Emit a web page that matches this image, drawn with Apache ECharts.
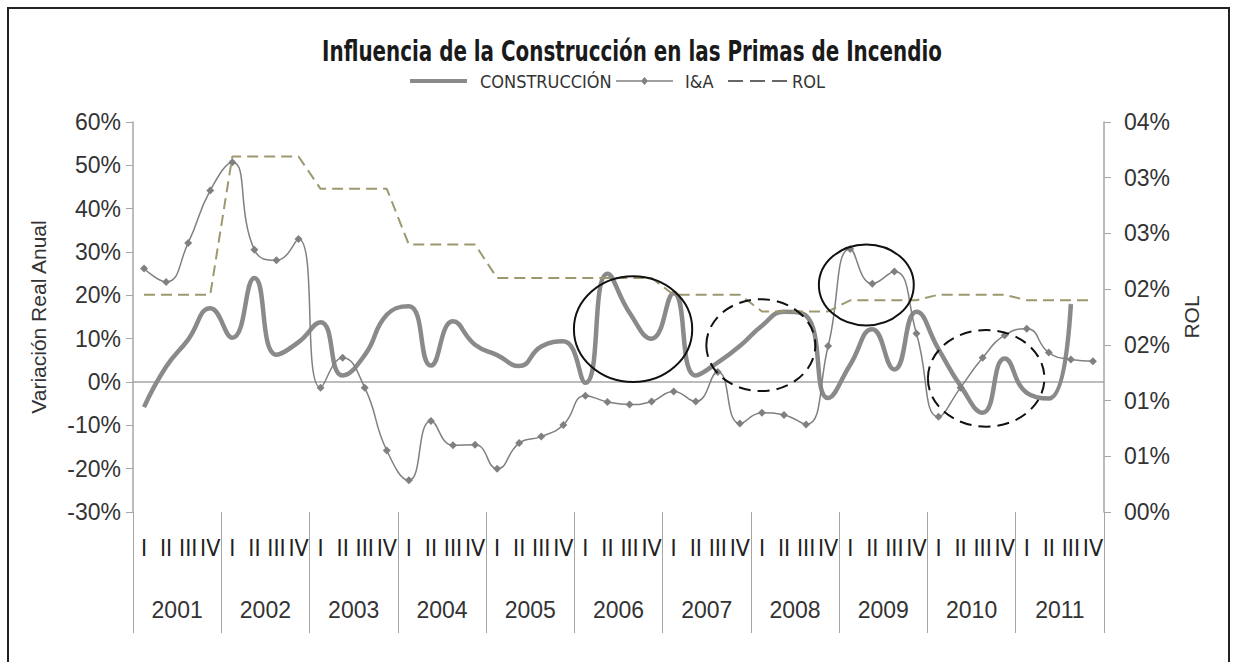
<!DOCTYPE html>
<html>
<head>
<meta charset="utf-8">
<script src="https://cdn.jsdelivr.net/npm/echarts@6/dist/echarts.min.js"></script>
<style>
html,body{margin:0;padding:0;background:#ffffff;}
#chart{width:1233px;height:662px;}
</style>
</head>
<body>
<div id="chart"></div>
<script>
// ---- data ----
const years = ['2001','2002','2003','2004','2005','2006','2007','2008','2009','2010','2011'];
const quarterLabels = ['I','II','III','IV'];

// CONSTRUCCIÓN (% variación real anual), quarterly 2001 I .. 2011 IV
const construccion = [
  -5.8, 3.5, 9.8, 17.0,
  10.2, 24.0, 6.3, 9.2,
  13.8, 1.5, 6.2, 15.5,
  17.5, 3.8, 14.0, 8.6,
  6.2, 3.7, 8.2, 9.4,
  -0.2, 25.0, 16.0, 10.0,
  20.5, 1.5, 4.5, 8.3,
  13.0, 16.2, 15.3, -3.7,
  4.0, 12.2, 2.9, 16.2,
  7.6, -0.9, -7.1, 5.4,
  -2.5, -3.8, 18.0, null
];

// I&A (% variación real anual)
const iya = [
  26.2, 23.1, 32.1, 44.2,
  50.7, 30.5, 28.1, 33.0,
  -1.3, 5.6, -1.3, -15.8,
  -22.7, -9.0, -14.6, -14.5,
  -20.0, -14.1, -12.6, -9.9,
  -3.2, -4.6, -5.2, -4.5,
  -2.2, -4.5, 2.3, -9.6,
  -7.1, -7.6, -9.8, 8.3,
  30.7, 22.7, 25.5, 11.2,
  -8.0, -1.3, 5.6, 10.8,
  12.3, 6.8, 5.2, 4.8
];

// ROL (%), right axis
const rol = [
  1.95, 1.95, 1.95, 1.95,
  3.19, 3.19, 3.19, 3.19,
  2.90, 2.90, 2.90, 2.90,
  2.40, 2.40, 2.40, 2.40,
  2.10, 2.10, 2.10, 2.10,
  2.10, 2.10, 2.10, 2.10,
  1.95, 1.95, 1.95, 1.95,
  1.80, 1.80, 1.80, 1.80,
  1.90, 1.90, 1.90, 1.90,
  1.95, 1.95, 1.95, 1.95,
  1.90, 1.90, 1.90, 1.90
];

const leftTickLabels = ['-30%','-20%','-10%','0%','10%','20%','30%','40%','50%','60%'];
const rightTickLabels = ['00%','01%','01%','02%','02%','03%','03%','04%'];

// annotation ellipses: centre (category index, left-axis value), radii (categories, value units)
const annotations = [
  {cx: 22.16, cy: 12.2, rx: 2.68, ry: 12.2, dashed: false},
  {cx: 27.95, cy: 8.5,  rx: 2.47, ry: 10.6, dashed: true},
  {cx: 32.73, cy: 22.4, rx: 2.15, ry: 9.35, dashed: false},
  {cx: 38.16, cy: 0.85, rx: 2.64, ry: 11.15, dashed: true}
];

const titleText = 'Influencia de la Construcción en las Primas de Incendio';

// ---- build ----
const quarterCats = [];
years.forEach(function(){ quarterLabels.forEach(function(q){ quarterCats.push(q); }); });

const NARROW = "'DejaVu Sans Condensed','Liberation Sans Narrow','Liberation Sans',sans-serif";
const SANS = "'Liberation Sans',Arial,sans-serif";
const AXIS_GRAY = '#a6a6a6';

const chart = echarts.init(document.getElementById('chart'), null, {renderer: 'svg'});

const option = {
  animation: false,
  backgroundColor: '#ffffff',
  legend: [
    {data: [{name: 'CONSTRUCCIÓN', icon: 'rect'}], left: 410, top: 72, padding: 0,
     itemWidth: 57, itemHeight: 4, itemGap: 0,
     textStyle: {fontFamily: NARROW, fontSize: 18, color: '#333', padding: [0, 0, 0, 8]}},
    {data: [{name: 'I&A', icon: 'path://M0,3.3H57V4.7H0Z M28.5,0L32,4L28.5,8L25,4Z'}], left: 616, top: 72, padding: 0,
     itemWidth: 57, itemHeight: 8, itemGap: 0,
     textStyle: {fontFamily: NARROW, fontSize: 18, color: '#333', padding: [0, 0, 0, 7]}},
    {data: [{name: 'ROL', icon: 'path://M0,0H15V2H0Z M22,0H37V2H22Z M44,0H59V2H44Z', itemStyle: {color: '#666666'}}], left: 728, top: 72, padding: 0,
     itemWidth: 59, itemHeight: 2, itemGap: 0,
     textStyle: {fontFamily: NARROW, fontSize: 18, color: '#333'}}
  ],
  grid: {left: 133, right: 129, top: 122, height: 390, containLabel: false},
  xAxis: [
    {
      type: 'category', data: quarterCats, position: 'bottom', boundaryGap: true,
      axisLine: {show: false, onZero: false},
      axisTick: {show: false},
      axisLabel: {interval: 0, margin: 24, fontFamily: NARROW, fontSize: 23, color: '#222'},
      splitLine: {show: false}
    },
    {
      type: 'category', data: years, position: 'bottom', boundaryGap: true,
      axisLine: {show: false, onZero: false},
      axisTick: {show: true, length: 121, lineStyle: {color: AXIS_GRAY, width: 1}},
      axisLabel: {interval: 0, margin: 86, fontFamily: SANS, fontSize: 23, color: '#333'},
      splitLine: {show: false}
    },
    {
      type: 'category', data: quarterCats, position: 'bottom', boundaryGap: true,
      axisLine: {show: true, onZero: true, onZeroAxisIndex: 0, lineStyle: {color: AXIS_GRAY, width: 1.5}},
      axisTick: {show: false},
      axisLabel: {show: false},
      splitLine: {show: false}
    }
  ],
  yAxis: [
    {
      type: 'value', min: -30, max: 60, interval: 10, position: 'left',
      name: 'Variación Real Anual', nameLocation: 'middle', nameRotate: 90, nameGap: 84,
      nameTextStyle: {fontFamily: SANS, fontSize: 21, color: '#333'},
      axisLine: {show: true, lineStyle: {color: AXIS_GRAY, width: 1.5}},
      axisTick: {show: true, length: 7, lineStyle: {color: AXIS_GRAY}},
      axisLabel: {margin: 12, fontFamily: SANS, fontSize: 23, color: '#333',
        formatter: function (v, i) { return leftTickLabels[i]; }},
      splitLine: {show: false}
    },
    {
      type: 'value', min: 0, max: 3.5, interval: 0.5, position: 'right',
      name: 'ROL', nameLocation: 'middle', nameRotate: 90, nameGap: 76,
      nameTextStyle: {fontFamily: SANS, fontSize: 21, color: '#333'},
      axisLine: {show: true, lineStyle: {color: AXIS_GRAY, width: 1.5}},
      axisTick: {show: true, length: 7, lineStyle: {color: AXIS_GRAY}},
      axisLabel: {margin: 20, fontFamily: SANS, fontSize: 23, color: '#333',
        formatter: function (v, i) { return rightTickLabels[i]; }},
      splitLine: {show: false}
    }
  ],
  series: [
    {
      name: 'CONSTRUCCIÓN', type: 'line', xAxisIndex: 0, yAxisIndex: 0,
      data: construccion, smooth: 0.5, symbol: 'none', connectNulls: false,
      lineStyle: {width: 4.5, color: '#8a8a8a'}, itemStyle: {color: '#8a8a8a'}, z: 2
    },
    {
      name: 'I&A', type: 'line', xAxisIndex: 0, yAxisIndex: 0,
      data: iya, smooth: 0.5, symbol: 'diamond', symbolSize: 8, showSymbol: true,
      lineStyle: {width: 1.5, color: '#808080'}, itemStyle: {color: '#808080'}, z: 3
    },
    {
      name: 'ROL', type: 'line', xAxisIndex: 0, yAxisIndex: 1,
      data: rol, smooth: false, symbol: 'none',
      lineStyle: {width: 2, type: [11, 6], color: '#9d9870'}, itemStyle: {color: '#9d9870'}, z: 4
    }
  ]
};
chart.setOption(option);

// annotation ellipses, placed through the axes' own scales
function px(idx, val) {
  return chart.convertToPixel({xAxisIndex: 0, yAxisIndex: 0}, [idx, val]);
}
const p0 = px(0, 0), p1 = px(1, 10);
const stepX = p1[0] - p0[0];
const stepY = (p0[1] - p1[1]) / 10;
const graphics = [
  {type: 'rect', shape: {x: 8, y: 8, width: 1221, height: 720}, style: {fill: 'none', stroke: '#222', lineWidth: 2}, silent: true, z: 0},
  {type: 'text', x: 632, y: 52, scaleX: 0.79, z: 50, silent: true,
   style: {text: titleText, fontFamily: NARROW, fontWeight: 'bold', fontSize: 28, fill: '#1a1a1a', align: 'center', verticalAlign: 'middle'}}
];
annotations.forEach(function (a) {
  const c = [p0[0] + a.cx * stepX, p0[1] - a.cy * stepY];
  graphics.push({
    type: 'ellipse', z: 100,
    shape: {cx: c[0], cy: c[1], rx: a.rx * stepX, ry: a.ry * stepY},
    style: {fill: 'none', stroke: '#111', lineWidth: 2, lineDash: a.dashed ? [12, 7] : null},
    silent: true
  });
});
chart.setOption({graphic: graphics});
</script>
</body>
</html>
